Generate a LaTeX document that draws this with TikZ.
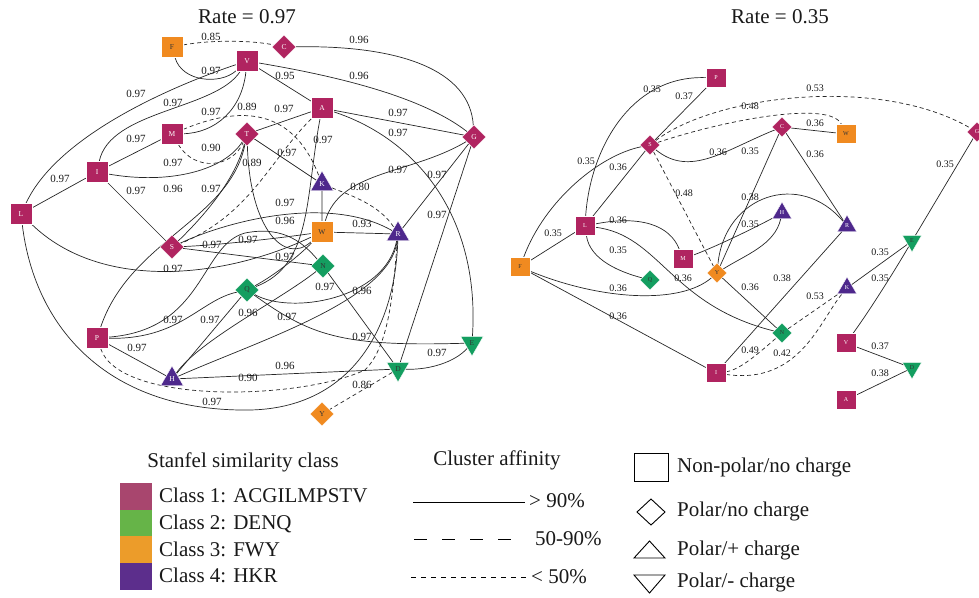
\documentclass[tikz,border=0pt]{standalone}
\usepackage{fontspec}
\setmainfont{Liberation Serif}
\usetikzlibrary{shapes.geometric,backgrounds}
\definecolor{cmag}{RGB}{176,36,96}
\definecolor{cgrn}{RGB}{20,158,96}
\definecolor{corg}{RGB}{240,138,32}
\definecolor{cpur}{RGB}{78,40,140}
\definecolor{lmag}{RGB}{168,70,110}
\definecolor{lgrn}{RGB}{102,180,72}
\definecolor{lorg}{RGB}{236,156,42}
\definecolor{lpur}{RGB}{92,46,140}
\tikzset{
 nd/.style={inner sep=0pt, font=\fontsize{7.5}{8}\selectfont, draw=white, line width=0.4pt},
 sqA/.style={nd, rectangle, minimum width=22pt, minimum height=21pt},
 diA/.style={nd, diamond, minimum width=24pt, minimum height=24pt},
 tuA/.style={nd, regular polygon, regular polygon sides=3, minimum size=26pt},
 tdA/.style={tuA, shape border rotate=180},
 ndB/.style={font=\fontsize{6}{6}\selectfont},
 sqB/.style={nd, ndB, rectangle, minimum width=20pt, minimum height=19pt},
 diB/.style={nd, ndB, diamond, minimum width=20pt, minimum height=20pt},
 tuB/.style={nd, ndB, regular polygon, regular polygon sides=3, minimum size=22pt},
 tdB/.style={tuB, shape border rotate=180},
 c1/.style={fill=cmag, text=white},
 c2/.style={fill=cgrn, text=black!80},
 c3/.style={fill=corg, text=black!80},
 c4/.style={fill=cpur, text=white},
 ed/.style={draw=black!85, line width=0.7pt},
 dsh/.style={ed, dash pattern=on 4pt off 3pt},
 labA/.style={font=\fontsize{11}{12}\selectfont, text=black!90, inner sep=0pt},
 labB/.style={font=\fontsize{10}{11}\selectfont, text=black!90, inner sep=0pt},
 leg/.style={font=\fontsize{21}{24}\selectfont, inner sep=0pt, text=black!90},
 legline/.style={draw=black, line width=0.9pt},
}
\begin{document}
\begin{tikzpicture}[x=1pt,y=-1pt]
\useasboundingbox (0,0) rectangle (979,597);

% titles
\node[leg] (t1) at (247,17) {Rate = 0.97};
\node[leg] (t2) at (780,17) {Rate = 0.35};

% ---------- left graph nodes
\node[sqA,c3] (aF) at (172,47) {F};
\node[diA,c1] (aC) at (284,47) {C};
\node[sqA,c1] (aV) at (247,61) {V};
\node[sqA,c1] (aA) at (322,108) {A};
\node[sqA,c1] (aM) at (172,134) {M};
\node[diA,c1] (aT) at (247,134) {T};
\node[diA,c1] (aG) at (474,137) {G};
\node[sqA,c1] (aI) at (97,172) {I};
\node[tuA,c4] (aK) at (322,184) {K};
\node[sqA,c1] (aL) at (21,214) {L};
\node[diA,c1] (aS) at (172,247) {S};
\node[sqA,c3] (aW) at (322,232) {W};
\node[tuA,c4] (aR) at (398,234) {R};
\node[diA,c2] (aN) at (323,266) {N};
\node[diA,c2] (aQ) at (247,290) {Q};
\node[sqA,c1] (aP) at (97,338) {P};
\node[tuA,c4] (aH) at (172,379) {H};
\node[tdA,c2] (aE) at (472,343) {E};
\node[tdA,c2] (aD) at (398,369) {D};
\node[diA,c3] (aY) at (322,414) {Y};

% ---------- right graph nodes
\node[sqB,c1] (bP) at (716,78) {P};
\node[diB,c1] (bS) at (650,145) {S};
\node[diB,c1] (bC) at (782,127) {C};
\node[sqB,c3] (bW) at (846,134) {W};
\node[diB,c1] (bG) at (977,132) {G};
\node[tuB,c4] (bH) at (782,213) {H};
\node[tuB,c4] (bR) at (847,226) {R};
\node[sqB,c1] (bL) at (585,226) {L};
\node[sqB,c3] (bF) at (520,267) {F};
\node[sqB,c1] (bM) at (683,259) {M};
\node[diB,c3] (bY) at (717,273) {Y};
\node[diB,c2] (bQ) at (650,280) {Q};
\node[tdB,c2] (bE) at (912,241) {E};
\node[tuB,c4] (bK) at (847,288) {K};
\node[diB,c2] (bN) at (782,333) {N};
\node[sqB,c1] (bV) at (846,343) {V};
\node[tdB,c2] (bD) at (912,368) {D};
\node[sqB,c1] (bA) at (846,400) {A};
\node[sqB,c1] (bI) at (716,373) {I};

\begin{scope}[on background layer]
% ---------- left edges
\draw[dsh] (aF) .. controls (210,40) and (250,40) .. (aC);
\draw[ed] (aF) .. controls (182,82) and (220,85) .. (aV);
\draw[ed] (aC) .. controls (400,45) and (470,70) .. (aG);
\draw[ed] (aV) .. controls (330,75) and (420,95) .. (aG);
\draw[ed] (aV) -- (aA);
\draw[ed] (aV) .. controls (190,80) and (60,130) .. (aL);
\draw[ed] (aV) .. controls (215,110) and (110,110) .. (aI);
\draw[ed] (aV) .. controls (242,110) and (215,133) .. (aM);
\draw[dsh] (aM) .. controls (230,110) and (290,100) .. (aK);
\draw[dsh] (aM) .. controls (195,172) and (232,168) .. (aT);
\draw[ed] (aT) -- (aA);
\draw[ed] (aA) -- (aG);
\draw[ed] (aA) .. controls (420,140) and (480,220) .. (aE);
\draw[ed] (aA) .. controls (305,200) and (312,265) .. (aQ);
\draw[ed] (aM) -- (aI);
\draw[ed] (aI) .. controls (170,185) and (225,170) .. (aT);
\draw[dsh] (aA) .. controls (270,160) and (250,215) .. (aS);
\draw[ed] (aT) -- (aK);
\draw[ed] (aL) -- (aI);
\draw[ed] (aI) -- (aS);
\draw[ed] (aP) .. controls (130,240) and (230,220) .. (aT);
\draw[ed] (aS) .. controls (205,215) and (235,180) .. (aT);
\draw[ed] (aG) .. controls (410,175) and (340,170) .. (aW);
\draw[ed] (aG) -- (aD);
\draw[dsh] (aK) .. controls (350,195) and (380,205) .. (aR);
\draw[ed] (aS) .. controls (230,220) and (330,195) .. (aR);
\draw[ed] (aT) .. controls (250,230) and (285,265) .. (aW);
\draw[ed] (aW) -- (aR);
\draw[ed] (aS) .. controls (220,245) and (280,238) .. (aW);
\draw[ed] (aS) -- (aN);
\draw[ed] (aQ) .. controls (275,275) and (300,255) .. (aW);
\draw[ed] (aL) .. controls (100,290) and (220,280) .. (aW);
\draw[ed] (aG) -- (aR);
\draw[ed] (aQ) .. controls (290,315) and (385,300) .. (aR);
\draw[ed] (aH) .. controls (260,340) and (390,300) .. (aR);
\draw[ed] (aQ) -- (aH);
\draw[ed] (aQ) .. controls (310,335) and (340,347) .. (aE);
\draw[ed] (aP) .. controls (205,330) and (200,245) .. (245,233) .. controls (285,225) and (305,245) .. (aN);
\draw[ed] (aP) .. controls (180,340) and (200,300) .. (aQ);
\draw[ed] (aP) -- (aH);
\draw[ed] (aN) -- (aD);
\draw[ed] (aD) .. controls (430,370) and (455,362) .. (aE);
\draw[ed] (aH) -- (aD);
\draw[dsh] (aP) .. controls (120,405) and (300,400) .. (365,370) .. controls (390,345) and (393,290) .. (aR);
\draw[dsh] (aD) -- (aY);
\draw[ed] (aL) .. controls (35,330) and (110,412) .. (250,410) .. controls (350,408) and (395,330) .. (aR);
\draw[ed] (aN) .. controls (280,300) and (200,340) .. (aH);
\draw[ed] (aK) -- (aW);

% ---------- right edges
\draw[ed] (bP) .. controls (630,75) and (590,150) .. (bL);
\draw[ed] (bP) -- (bS);
\draw[ed] (bS) .. controls (600,155) and (545,200) .. (bF);
\draw[ed] (bS) -- (bL);
\draw[ed] (bS) .. controls (690,178) and (725,150) .. (bC);
\draw[dsh] (bS) .. controls (715,95) and (880,75) .. (bG);
\draw[dsh] (bS) .. controls (725,120) and (830,100) .. (bW);
\draw[dsh] (bS) -- (bY);
\draw[ed] (bC) -- (bW);
\draw[ed] (bC) -- (bY);
\draw[ed] (bC) -- (bR);
\draw[ed] (bL) .. controls (640,215) and (670,225) .. (bM);
\draw[ed] (bL) -- (bF);
\draw[ed] (bL) .. controls (590,260) and (620,272) .. (bQ);
\draw[ed] (bL) .. controls (660,235) and (670,305) .. (bN);
\draw[ed] (bF) .. controls (600,300) and (680,305) .. (bY);
\draw[ed] (bF) -- (bI);
\draw[ed] (bI) -- (bR);
\draw[dsh] (bI) .. controls (740,370) and (760,352) .. (bN);
\draw[dsh] (bI) .. controls (800,385) and (820,320) .. (bK);
\draw[dsh] (bN) -- (bK);
\draw[ed] (bK) -- (bE);
\draw[ed] (bV) .. controls (870,310) and (895,270) .. (bE);
\draw[ed] (bV) -- (bD);
\draw[ed] (bA) -- (bD);
\draw[ed] (bG) -- (bE);
\draw[ed] (bY) -- (bN);
\draw[ed] (bY) .. controls (725,195) and (800,170) .. (bR);
\draw[ed] (bM) .. controls (720,245) and (760,225) .. (bH);
\draw[ed] (bY) .. controls (745,255) and (775,245) .. (bH);
\end{scope}

% ---------- edge labels
\foreach \x/\y/\t [count=\i] in {211/37/0.85, 211/71/0.97, 359/40/0.96, 359/76/0.96, 285/76/0.95, 136/94/0.97, 173/103/0.97, 211/112/0.97, 247/107/0.89, 284/109/0.97, 398/113/0.97, 398/133/0.97, 323/140/0.97, 136/139/0.97, 211/148/0.90, 173/163/0.97, 252/163/0.89, 287/153/0.97, 60/179/0.97, 136/191/0.97, 173/189/0.96, 211/189/0.97, 398/170/0.97, 437/175/0.97, 360/187/0.80, 285/203/0.97, 285/221/0.96, 362/224/0.93, 248/240/0.97, 212/245/0.97, 285/257/0.97, 173/269/0.97, 437/215/0.97, 325/287/0.97, 362/291/0.96, 248/313/0.96, 287/317/0.97, 173/320/0.97, 210/320/0.97, 137/348/0.97, 362/337/0.97, 437/353/0.97, 285/366/0.96, 248/378/0.90, 362/385/0.86, 212/402/0.97}
  \node[labA] (la\i) at (\x,\y) {\t};
\foreach \x/\y/\t [count=\i] in {652/89/0.35, 684/96/0.37, 586/161/0.35, 618/167/0.36, 718/152/0.36, 684/193/0.48, 815/88/0.53, 750/106/0.48, 815/123/0.36, 750/151/0.35, 815/154/0.36, 945/164/0.35, 750/197/0.38, 618/220/0.36, 553/233/0.35, 618/250/0.35, 683/278/0.36, 618/288/0.36, 618/316/0.36, 750/224/0.35, 782/278/0.38, 750/287/0.36, 815/296/0.53, 750/350/0.49, 782/353/0.42, 880/252/0.35, 880/278/0.35, 880/346/0.37, 880/373/0.38}
  \node[labB] (lb\i) at (\x,\y) {\t};

% ---------- legend: classes
\node[leg, anchor=base] (lgA) at (243,467) {Stanfel similarity class};
\fill[lmag] (120,483) rectangle (152,510);
\fill[lgrn] (120,510) rectangle (152,536);
\fill[lorg] (120,536) rectangle (152,563);
\fill[lpur] (120,563) rectangle (152,590);
\node[leg, anchor=base west] (lc1) at (159,502) {Class 1: ACGILMPSTV};
\node[leg, anchor=base west] (lc2) at (159,529) {Class 2: DENQ};
\node[leg, anchor=base west] (lc3) at (159,556) {Class 3: FWY};
\node[leg, anchor=base west] (lc4) at (159,582) {Class 4: HKR};

% ---------- legend: affinity
\node[leg, anchor=base] (lgB) at (497,465) {Cluster affinity};
\draw[legline] (413,502) -- (525,502);
\draw[legline, dash pattern=on 13pt off 15pt] (414,539) -- (515,539);
\draw[legline, line width=0.8pt, dash pattern=on 5pt off 5pt] (411,577) -- (527,577);
\node[leg, anchor=base west] (lf1) at (529,507) {> 90\%};
\node[leg, anchor=base west] (lf2) at (535,545) {50-90\%};
\node[leg, anchor=base west] (lf3) at (531,583) {< 50\%};

% ---------- legend: shapes
\draw[legline] (634,453) rectangle (668,481);
\draw[legline] (651,499) -- (665,512) -- (651,525) -- (637,512) -- cycle;
\draw[legline] (634,558) -- (649.5,541) -- (665,558) -- cycle;
\draw[legline] (634,575) -- (665,575) -- (649.5,593) -- cycle;
\node[leg, anchor=base west] (ls1) at (677,472) {Non-polar/no charge};
\node[leg, anchor=base west] (ls2) at (677,516) {Polar/no charge};
\node[leg, anchor=base west] (ls3) at (677,555) {Polar/+ charge};
\node[leg, anchor=base west] (ls4) at (677,587) {Polar/- charge};
\end{tikzpicture}
\end{document}
